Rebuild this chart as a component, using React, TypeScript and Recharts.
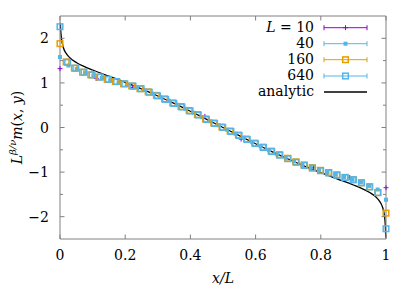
import React from 'react';
import { ComposedChart, Scatter, Line, XAxis, YAxis, Customized } from 'recharts';

const FONT = "'DejaVu Serif', serif";
const FS = 14;
const GRAY = '#808080';
const PURPLE = '#9400d3';
const BLUE = '#56b4e9';
const ORANGE = '#e69f00';

// x = site / (L - 1)
const L10 = 10;
const sites10 = [0, 1, 2, 3, 4, 5, 6, 7, 8, 9];
const m10 = [1.32, 1.1, 0.9, 0.61, 0.25, -0.26, -0.61, -0.9, -1.12, -1.35];

const L40 = 40;
const sites40 = [0, 1, 2, 3, 4, 5, 6, 7, 8, 9, 10, 11, 12, 13, 14, 15, 16, 17, 18, 19,
  20, 21, 22, 23, 24, 25, 26, 27, 28, 29, 30, 31, 32, 33, 34, 35, 36, 37, 38, 39];
const m40 = [1.58, 1.39, 1.31, 1.23, 1.17, 1.11, 1.06, 1.01, 0.96, 0.9, 0.84, 0.76, 0.68, 0.6, 0.51, 0.42, 0.33, 0.23, 0.14, 0.05,
  -0.05, -0.14, -0.23, -0.33, -0.42, -0.51, -0.6, -0.68, -0.76, -0.84, -0.9, -0.96, -1.01, -1.06, -1.11, -1.17, -1.23, -1.31, -1.39, -1.62];

const L160 = 160;
const sites160 = [0, 3, 7, 11, 15, 19, 23, 27, 31, 35, 39, 43, 47, 51, 55, 59, 63, 67, 71, 75, 79,
  83, 87, 91, 95, 99, 103, 107, 111, 115, 119, 123, 127, 131, 135, 139, 143, 147, 151, 155, 159];
const m160 = [1.88, 1.47, 1.33, 1.24, 1.18, 1.13, 1.08, 1.03, 0.98, 0.93, 0.87, 0.8, 0.72, 0.64, 0.55, 0.47, 0.38, 0.29, 0.19, 0.1, 0.01,
  -0.08, -0.17, -0.26, -0.35, -0.44, -0.53, -0.61, -0.69, -0.77, -0.84, -0.9, -0.96, -1.01, -1.06, -1.12, -1.17, -1.24, -1.33, -1.46, -1.92];

const L640 = 640;
const sites640 = [0, 15, 31, 47, 63, 79, 95, 111, 127, 143, 159, 175, 191, 207, 223, 239, 255, 271, 287, 303, 319,
  335, 351, 367, 383, 399, 415, 431, 447, 463, 479, 495, 511, 527, 543, 559, 575, 591, 607, 623, 639];
const m640 = [2.26, 1.46, 1.33, 1.24, 1.18, 1.13, 1.08, 1.03, 0.98, 0.93, 0.87, 0.79, 0.71, 0.63, 0.54, 0.46, 0.37, 0.28, 0.18, 0.09, 0.0,
  -0.09, -0.18, -0.27, -0.36, -0.45, -0.54, -0.62, -0.7, -0.78, -0.85, -0.91, -0.97, -1.02, -1.07, -1.12, -1.17, -1.24, -1.33, -1.46, -2.27];

const analyticX = [0.0012, 0.002, 0.003, 0.005, 0.01, 0.02, 0.03, 0.05, 0.075, 0.1, 0.15, 0.2, 0.25, 0.3, 0.35, 0.4, 0.45, 0.5,
  0.55, 0.6, 0.65, 0.7, 0.75, 0.8, 0.85, 0.9, 0.925, 0.95, 0.97, 0.98, 0.99, 0.995, 0.997, 0.998, 0.9992];
const analyticY = [2.35, 2.2, 2.1, 1.97, 1.8, 1.65, 1.565, 1.458, 1.365, 1.289, 1.151, 1.012, 0.864, 0.706, 0.539, 0.364, 0.183, 0,
  -0.183, -0.364, -0.539, -0.706, -0.864, -1.012, -1.151, -1.289, -1.365, -1.458, -1.565, -1.65, -1.8, -1.967, -2.097, -2.205, -2.47];

const xTicks = [0, 0.2, 0.4, 0.6, 0.8, 1];
const xTickLabels = ['0', '0.2', '0.4', '0.6', '0.8', '1'];
const yTicks = [-2, -1.5, -1, -0.5, 0, 0.5, 1, 1.5, 2];
const yTickLabels = ['\u22122', '', '\u22121', '', '0', '', '1', '', '2'];

const legendLabels = ['10', '40', '160', '640', 'analytic'];

const toPoints = (sites: number[], L: number, m: number[]) =>
  sites.map((s, i) => ({ x: s / (L - 1), y: m[i] }));

const data10 = toPoints(sites10, L10, m10);
const data40 = toPoints(sites40, L40, m40);
const data160 = toPoints(sites160, L160, m160);
const data640 = toPoints(sites640, L640, m640);
const analytic = analyticX.map((x, i) => ({ x, y: analyticY[i] }));

const W = 415;
const H = 291;

const textStyle: React.CSSProperties = { fontFamily: FONT, fontSize: FS };

const PlusShape = (p: any) => (
  <g>
    <line x1={p.cx - 2.5} y1={p.cy} x2={p.cx + 2.5} y2={p.cy} stroke={PURPLE} strokeWidth={1} />
    <line x1={p.cx} y1={p.cy - 2.5} x2={p.cx} y2={p.cy + 2.5} stroke={PURPLE} strokeWidth={1} />
  </g>
);
const FilledSq = (p: any) => (
  <rect x={p.cx - 2} y={p.cy - 2} width={4} height={4} fill={BLUE} />
);
const OpenSqOrange = (p: any) => (
  <rect x={p.cx - 2.8} y={p.cy - 2.8} width={5.6} height={5.6} fill="none" stroke={ORANGE} strokeWidth={1.5} />
);
const OpenSqBlue = (p: any) => (
  <rect x={p.cx - 2.8} y={p.cy - 2.8} width={5.6} height={5.6} fill="none" stroke={BLUE} strokeWidth={1.5} />
);

const BottomTick = (p: any) => {
  const i = xTicks.indexOf(p.payload.value);
  return (
    <g>
      <line x1={p.x} y1={p.y} x2={p.x} y2={p.y - 4.5} stroke={GRAY} />
      <text x={p.x} y={p.y + 21} textAnchor="middle" style={textStyle} fill="#000">{xTickLabels[i]}</text>
    </g>
  );
};
const TopTick = (p: any) => (
  <line x1={p.x} y1={p.y} x2={p.x} y2={p.y + 4.5} stroke={GRAY} />
);
const LeftTick = (p: any) => {
  const i = yTicks.indexOf(p.payload.value);
  const lab = yTickLabels[i];
  const len = lab ? 4.5 : 3;
  return (
    <g>
      <line x1={p.x} y1={p.y} x2={p.x + len} y2={p.y} stroke={GRAY} />
      {lab ? <text x={p.x - 11} y={p.y + 5} textAnchor="end" style={textStyle} fill="#000">{lab}</text> : null}
    </g>
  );
};
const RightTick = (p: any) => {
  const i = yTicks.indexOf(p.payload.value);
  const len = yTickLabels[i] ? 4.5 : 3;
  return <line x1={p.x} y1={p.y} x2={p.x - len} y2={p.y} stroke={GRAY} />;
};

const Decorations = () => {
  const rows = [31.7, 47.7, 63.7, 80, 96];
  const colors = [PURPLE, BLUE, ORANGE, BLUE, '#000'];
  const x0 = 324;
  const x1 = 367;
  const xm = (x0 + x1) / 2;
  return (
    <g>
      {rows.map((b, i) => {
        const ly = b - 4;
        const c = colors[i];
        return (
          <g key={i}>
            <text x={314} y={b} textAnchor="end" style={textStyle} fill="#000">
              {i === 0 ? (
                <>
                  <tspan fontStyle="italic">L</tspan>
                  <tspan> = </tspan>
                  <tspan>{legendLabels[i]}</tspan>
                </>
              ) : legendLabels[i]}
            </text>
            <line x1={x0} y1={ly} x2={x1} y2={ly} stroke={c} strokeWidth={i === 4 ? 1.3 : 1} />
            {i < 4 ? (
              <g>
                <line x1={x0} y1={ly - 2.5} x2={x0} y2={ly + 2.5} stroke={c} />
                <line x1={x1} y1={ly - 2.5} x2={x1} y2={ly + 2.5} stroke={c} />
              </g>
            ) : null}
            {i === 0 ? <PlusShape cx={xm} cy={ly} /> : null}
            {i === 1 ? <FilledSq cx={xm} cy={ly} /> : null}
            {i === 2 ? <OpenSqOrange cx={xm} cy={ly} /> : null}
            {i === 3 ? <OpenSqBlue cx={xm} cy={ly} /> : null}
          </g>
        );
      })}
      <text x={223} y={283} textAnchor="middle" style={{ ...textStyle, fontStyle: 'italic' }} fill="#000">x/L</text>
      <text x={22} y={127.5} transform="rotate(-90, 22, 127.5)" textAnchor="middle" style={textStyle} fill="#000">
        <tspan fontStyle="italic">L</tspan>
        <tspan fontSize={10} dy={-6} fontStyle="italic">{'\u03b2/\u03bd'}</tspan>
        <tspan dy={6} fontStyle="italic">m</tspan>
        <tspan>(</tspan>
        <tspan fontStyle="italic">x</tspan>
        <tspan>, </tspan>
        <tspan fontStyle="italic">y</tspan>
        <tspan>)</tspan>
      </text>
    </g>
  );
};

export default function App() {
  return (
    <div style={{ position: 'absolute', left: 0, top: 0, width: W, height: H, background: '#fff', fontFamily: FONT }}>
      <ComposedChart width={W} height={H} data={analytic} margin={{ top: 0, right: 0, bottom: 0, left: 0 }}>
        <XAxis
          xAxisId="b"
          type="number"
          dataKey="x"
          domain={[0, 1]}
          ticks={xTicks}
          height={52}
          tickSize={0}
          tickMargin={0}
          tick={<BottomTick />}
          axisLine={{ stroke: GRAY }}
          tickLine={false}
          interval={0}
        />
        <XAxis
          xAxisId="t"
          orientation="top"
          type="number"
          dataKey="x"
          domain={[0, 1]}
          ticks={xTicks}
          height={16}
          tickSize={0}
          tickMargin={0}
          tick={<TopTick />}
          axisLine={{ stroke: GRAY }}
          tickLine={false}
          interval={0}
        />
        <YAxis
          yAxisId="l"
          type="number"
          dataKey="y"
          domain={[-2.5, 2.5]}
          ticks={yTicks}
          width={60}
          tickSize={0}
          tickMargin={0}
          tick={<LeftTick />}
          axisLine={{ stroke: GRAY }}
          tickLine={false}
          interval={0}
        />
        <YAxis
          yAxisId="r"
          orientation="right"
          type="number"
          dataKey="y"
          domain={[-2.5, 2.5]}
          ticks={yTicks}
          width={29}
          tickSize={0}
          tickMargin={0}
          tick={<RightTick />}
          axisLine={{ stroke: GRAY }}
          tickLine={false}
          interval={0}
        />
        <Scatter xAxisId="b" yAxisId="l" data={data10} shape={PlusShape} isAnimationActive={false} />
        <Scatter xAxisId="b" yAxisId="l" data={data40} shape={FilledSq} isAnimationActive={false} />
        <Scatter xAxisId="b" yAxisId="l" data={data160} shape={OpenSqOrange} isAnimationActive={false} />
        <Scatter xAxisId="b" yAxisId="l" data={data640} shape={OpenSqBlue} isAnimationActive={false} />
        <Line
          xAxisId="b"
          yAxisId="l"
          dataKey="y"
          type="monotone"
          stroke="#000"
          strokeWidth={1.3}
          dot={false}
          activeDot={false}
          isAnimationActive={false}
        />
        <Customized component={<Decorations />} />
      </ComposedChart>
    </div>
  );
}
